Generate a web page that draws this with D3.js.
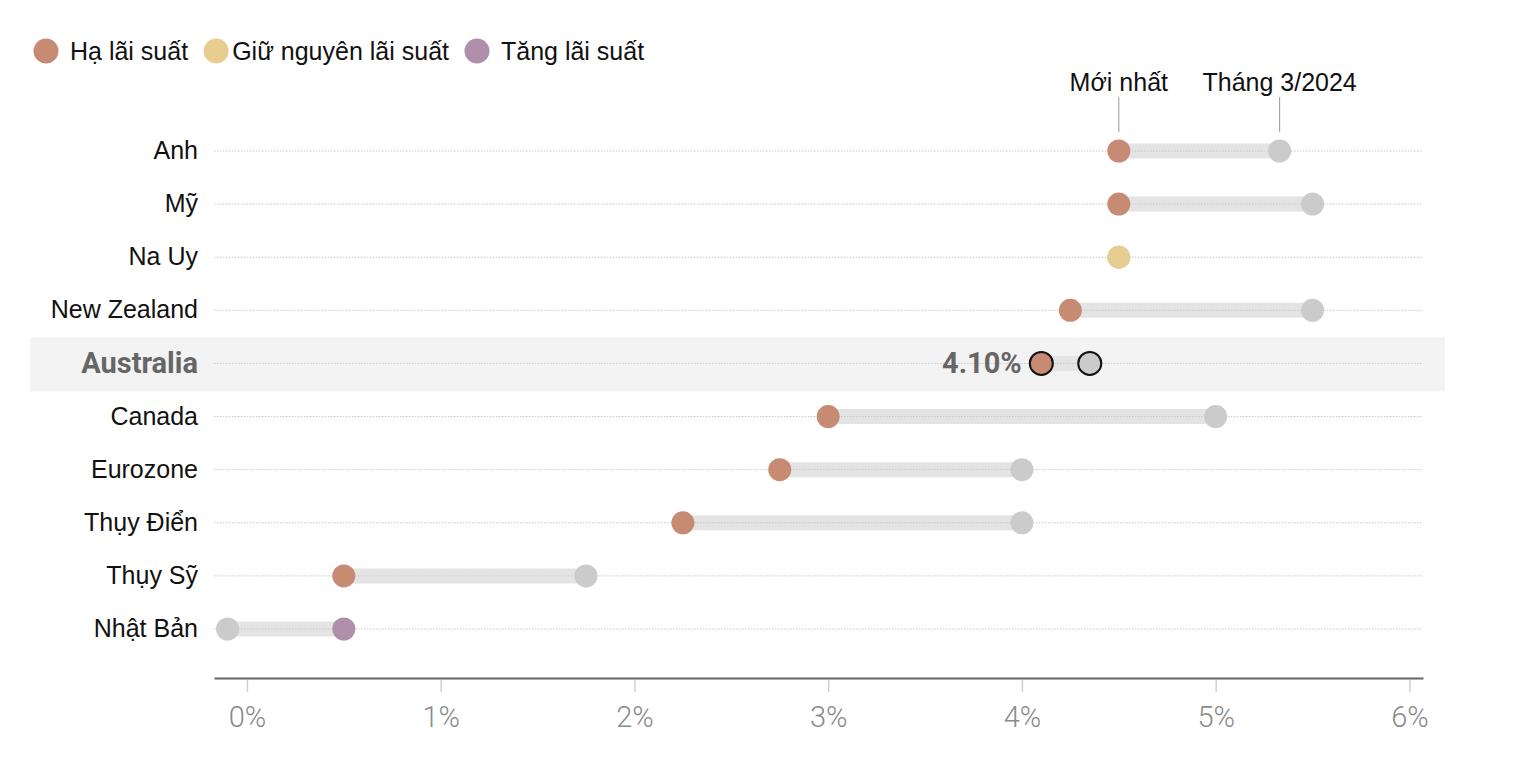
<!DOCTYPE html>
<html>
<head>
<meta charset="utf-8">
<script src="https://cdn.jsdelivr.net/npm/d3@7"></script>
<style>
  body { margin: 0; background: #fff; }
  svg text { font-family: "Liberation Sans", Arial, sans-serif; }
</style>
</head>
<body>
<svg id="chart"></svg>
<script>
// rates in %, latest vs March 2024
const countries = ["Anh", "Mỹ", "Na Uy", "New Zealand", "Australia", "Canada", "Eurozone", "Thụy Điển", "Thụy Sỹ", "Nhật Bản"];
const latest = [4.5, 4.5, 4.5, 4.25, 4.1, 3.0, 2.75, 2.25, 0.5, 0.5];
const march2024 = [5.33, 5.5, 4.5, 5.5, 4.35, 5.0, 4.0, 4.0, 1.75, -0.1];
const moves = ["cut", "cut", "hold", "cut", "cut", "cut", "cut", "cut", "cut", "hike"];
const legendKeys = ["cut", "hold", "hike"];
const legendLabels = ["Hạ lãi suất", "Giữ nguyên lãi suất", "Tăng lãi suất"];
const xTicks = [0, 1, 2, 3, 4, 5, 6];
const highlight = "Australia";

{
    const width = 1536, height = 784;

    const colors = {cut: "#c78a73", hold: "#e8cd90", hike: "#b08fab", old: "#cbcbcb"};

    const rows = countries.map((c, i) => ({
        country: c, latest: latest[i], march: march2024[i], move: moves[i]
    }));

    const x = d3.scaleLinear().domain([-0.17, 6.07]).range([214, 1423]);
    const y = d3.scalePoint().domain(countries).range([151, 629]);
    const axisY = 678;
    const r = 11.5;
    const fs = 25;

    const svg = d3.select("#chart")
        .attr("width", width)
        .attr("height", height);

    // legend
    const legend = svg.append("g").attr("transform", "translate(46, 51)");
    let lx = 0;
    legendKeys.forEach((k, i) => {
        const item = legend.append("g").attr("transform", `translate(${lx}, 0)`);
        item.append("circle").attr("r", 12.5).attr("fill", colors[k]);
        const pad = i === 1 ? 16 : 24;
        const t = item.append("text")
            .attr("x", pad)
            .attr("y", 9)
            .attr("font-size", fs)
            .attr("fill", "#111")
            .text(legendLabels[i]);
        lx += pad + t.node().getComputedTextLength() + 28;
    });

    // highlight band
    svg.append("rect")
        .attr("x", 30).attr("width", 1415)
        .attr("y", y(highlight) - 26).attr("height", 54)
        .attr("fill", "#f3f3f3");

    // annotations above the first row
    const first = rows[0];
    [[first.latest, "Mới nhất"], [first.march, "Tháng 3/2024"]].forEach(([v, label]) => {
        svg.append("line")
            .attr("x1", x(v)).attr("x2", x(v))
            .attr("y1", 97).attr("y2", 132)
            .attr("stroke", "#999").attr("stroke-width", 1);
        svg.append("text")
            .attr("x", x(v)).attr("y", 91)
            .attr("text-anchor", "middle")
            .attr("font-size", fs)
            .attr("fill", "#111")
            .text(label);
    });

    const row = svg.selectAll("g.row")
        .data(rows)
        .enter()
            .append("g")
            .attr("class", "row")
            .attr("transform", d => `translate(0, ${y(d.country)})`);

    // range bar
    row.append("line")
        .attr("x1", d => x(d.latest)).attr("x2", d => x(d.march))
        .attr("stroke", "#e4e4e4").attr("stroke-width", 15);

    // dotted grid line
    row.append("line")
        .attr("x1", x.range()[0]).attr("x2", x.range()[1])
        .attr("stroke", "#c8c8c8").attr("stroke-width", 1)
        .attr("stroke-dasharray", "1.5,1.5");

    row.append("text")
        .attr("x", 198).attr("y", d => d.country === highlight ? 10 : 8)
        .attr("text-anchor", "end")
        .attr("font-size", d => d.country === highlight ? 29 : fs)
        .attr("font-weight", d => d.country === highlight ? "bold" : "normal")
        .style("font-family", d => d.country === highlight ? "Roboto, sans-serif" : null)
        .attr("fill", d => d.country === highlight ? "#666" : "#111")
        .text(d => d.country);

    row.append("circle")
        .attr("cx", d => x(d.march)).attr("r", r)
        .attr("fill", colors.old)
        .attr("stroke", d => d.country === highlight ? "#111" : "none")
        .attr("stroke-width", 2);

    row.append("circle")
        .attr("cx", d => x(d.latest)).attr("r", r)
        .attr("fill", d => colors[d.move])
        .attr("stroke", d => d.country === highlight ? "#111" : "none")
        .attr("stroke-width", 2);

    row.filter(d => d.country === highlight)
        .append("text")
            .attr("x", d => x(d.latest) - r - 8).attr("y", 10)
            .attr("text-anchor", "end")
            .attr("font-size", 29)
            .attr("font-weight", "bold")
            .style("font-family", "Roboto, sans-serif")
            .attr("fill", "#666")
            .text(d => d3.format(".2f")(d.latest) + "%");

    // x axis
    const axis = svg.append("g")
        .attr("transform", `translate(0, ${axisY})`)
        .call(d3.axisBottom(x).tickValues(xTicks).tickSize(14).tickSizeOuter(0).tickPadding(14).tickFormat(d => d + "%"));

    axis.select(".domain").attr("stroke", "#666").attr("stroke-width", 2);
    axis.selectAll(".tick line").attr("stroke", "#d0d0d0").attr("stroke-width", 1.5).attr("y1", 2);
    axis.selectAll(".tick text")
        .attr("font-size", 29)
        .attr("font-weight", 300)
        .style("font-family", "Roboto, sans-serif")
        .attr("fill", "#8a8a8a");
}
</script>
</body>
</html>
